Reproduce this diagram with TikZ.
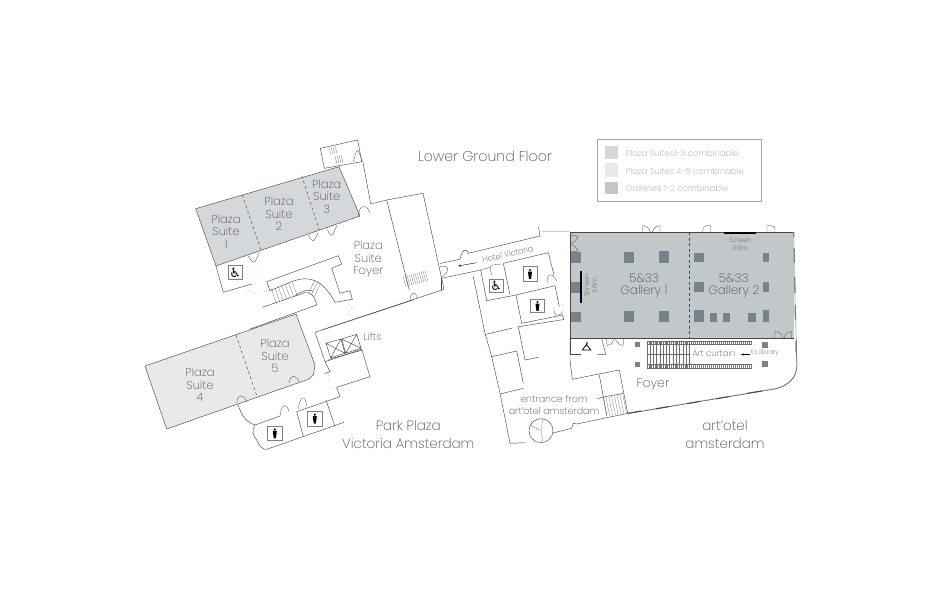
\documentclass[tikz,border=0pt]{standalone}
\usepackage{fontspec}
\setmainfont{Poppins}[UprightFont=* ExtraLight]
\newfontfamily\symfont{DejaVu Sans}
\usetikzlibrary{arrows.meta}
\definecolor{wallcol}{HTML}{484848}
\definecolor{suiteA}{HTML}{D5D8DA}
\definecolor{suiteB}{HTML}{E8E9EA}
\definecolor{gallerycol}{HTML}{C2C7CA}
\definecolor{pillarcol}{HTML}{75838E}
\definecolor{glasscol}{HTML}{C9CCCE}
\definecolor{textcol}{HTML}{505050}
\definecolor{legendcol}{HTML}{A0A0A0}
\newcommand{\personicon}[2]{
    \path[fill=black] (#1,#2-4) circle (1.2);
    \path[fill=black] (#1-2,#2-2.5) -- (#1+2,#2-2.5) -- (#1+1.6,#2+1.2) -- (#1+1,#2+4.8) -- (#1-1,#2+4.8) -- (#1-1.6,#2+1.2) -- cycle;
}
\tikzset{
    wall/.style={draw=wallcol, line width=0.45pt},
    door/.style={draw=wallcol, line width=0.3pt},
    divider/.style={draw=wallcol, line width=0.45pt, dash pattern=on 3pt off 2.5pt},
    thin line/.style={draw=wallcol!80, line width=0.25pt},
    pillar/.style={fill=pillarcol},
    iconbox/.style={draw=gray, line width=0.7pt, fill=white},
    roomtext/.style={text=textcol, align=center, inner sep=0pt, font=\fontsize{11.5}{12.5}\selectfont},
    bigtext/.style={text=textcol, align=center, inner sep=0pt, font=\fontsize{13.5}{18}\selectfont},
    smalltext/.style={text=textcol, align=center, inner sep=0pt, font=\fontsize{6.5}{8}\selectfont},
    legendtext/.style={text=legendcol, anchor=west, inner sep=0pt, font=\fontsize{8.5}{10}\selectfont},
}
\begin{document}
\begin{tikzpicture}[x=1pt, y=-1pt]
    \useasboundingbox (0,0) rectangle (945,600);

    % Plaza suites 1 to 3
    \path[wall, fill=suiteA] (195.7,208.7) -- (339,166.7) -- (360,216) -- (216,266) -- cycle;
    \path[divider] (242.3,195) -- (260.7,249.3);
    \path[divider] (301.7,175.7) -- (319.3,230);

    % Plaza suites 4 and 5
    \path[wall, fill=suiteB] (145,366) -- (296,314) -- (315,365) -- (313.3,375) -- (308.3,379.3) -- (166.7,429) -- cycle;
    \path[divider] (236,335) -- (257.3,397.3);

    % Galleries
    \path[fill=gallerycol] (570,232.3) rectangle (794,338.3);
    \path[wall] (570,338.3) -- (794,338.3);
    \path[wall] (570,232.3) -- (570,338.3);
    \path[wall] (570,232.3) -- (794,232.3);
    \path[divider] (689.3,232.3) -- (689.3,338.3);

    % Upper stair room and corridor
    \path[wall] (320.3,148.3) -- (357.7,140) -- (361.7,161.7) -- (324.3,168.3) -- cycle;
    \path[wall] (363,162.3) -- (370.7,204) -- (386.7,200) -- (423,193.3) -- (444,289.3) -- (321.7,330);
    \path[wall] (386.7,200) -- (409.3,290);
    \foreach \i in {0,1,2,3} {
        \path[thin line] (329+\i*2,147.5-\i*0.5) -- (331+\i*2,155-\i*0.5);
        \path[thin line] (335+\i*2,156-\i*0.5) -- (337+\i*2,164-\i*0.5);
    }
    \foreach \i in {0,...,11} {
        \path[thin line] (403+\i*2,276-\i*0.5) -- (406+\i*2,287-\i*0.5);
    }

    % Foyer of the suites
    \path[wall] (216,266) -- (223.3,292.3) -- (251.7,284);
    \path[wall] (266.7,281.7) -- (338.3,255.7) -- (341.7,264) -- (331.7,268.3) -- (340,293.3) -- (350,290.7) -- (352.3,299.3) -- (335,302.3);
    \path[wall] (266.7,281.7) -- (270,290.7) -- (291.7,281.7) .. controls (311,274) and (324,282) .. (335,302.3);
    \path[wall] (262.3,307.3) -- (305,292.7) .. controls (310,291.5) and (315,296) .. (316.7,305) -- (250,329);
    \path[wall] (295,295.5) .. controls (302,291) and (308,289) .. (313,291);
    \foreach \i in {0,...,6} {
        \path[thin line] (271.5+\i*3.4,288.5-\i*1.1) -- (276.5+\i*3.4,304-\i*1.6);
    }
    \foreach \i in {0,1,2} {
        \path[thin line] (308.3+\i*3,293.3+\i*1.6) -- (315+\i*2.9,280+\i*1.6);
    }

    % Lift block and toilets
    \path[wall] (413,300) -- (315,332.3) -- (325,361.7) -- (361.7,349.3) -- (370,376.7) -- (336.7,387.3) -- (340,396.7) -- (296.7,411.7);
    \path[wall] (325,361.7) -- (330,371.7) -- (324.5,373.5);
    \path[wall] (238.3,405) .. controls (241,415) and (246,422) .. (255,425) -- (280,416);
    \path[wall] (255,425) .. controls (252,430) and (252,434) .. (256.7,440) .. controls (259,446) and (263,450) .. (266.7,449.3) -- (344,422.3);
    \path[wall] (326,400) -- (335,426.7);
    \path[wall] (296.7,411.7) -- (303.3,436.7);
    \path[wall] (326,343.3) -- (341,339) -- (345,353.3) -- (330.7,357.7) -- cycle (326,343.3) -- (345,353.3) (341,339) -- (330.7,357.7);
    \path[wall] (341.7,339) -- (356.7,334.3) -- (361,348.3) -- (345.7,353.3) -- cycle (341.7,339) -- (361,348.3) (356.7,334.3) -- (345.7,353.3);
    \path[wall] (328.5,359.5) -- (362.5,350);
    \path[iconbox] (267.3,426.7) rectangle (282.3,440);
    \path[iconbox] (307.3,411.7) rectangle (322.3,426);
    \path[iconbox] (228.5,265.5) rectangle (242,279.5);
    \personicon{274.8}{433.5}
    \personicon{314.8}{418.7}

    % Doors of the suites
    \path[door] (353.3,161.7) .. controls (357,147) .. (362.7,161.7);
    \path[door] (358.3,216) .. controls (359,203) and (368,205) .. (370,213);
    \path[door] (308.3,235) .. controls (313,243) .. (318.3,232.7);
    \path[door] (326.7,228.3) .. controls (331.5,238) .. (336.7,226);
    \path[door] (248.3,256) .. controls (254,265) .. (259.3,252.3);
    \path[door, dotted] (251.7,266.7) .. controls (262,270) and (262,276) .. (253.3,279);
    \path[door, dotted] (251.7,284) .. controls (245,286) and (246,292) .. (255,292.3) -- (261.7,293.3) -- (267.7,290);
    \path[door, dotted] (352.3,299.3) .. controls (346,303) .. (353.3,308.3) .. controls (347,313) .. (351,316.7) -- (360,316.7);
    \path[door] (410,301) .. controls (410,292) and (416,290) .. (417,298);
    \path[door] (440,266.7) .. controls (450,264) and (450,272) .. (441.7,276.7);
    \path[door] (236.7,403.3) .. controls (238,392) and (244,395) .. (246.7,401.7);
    \path[door] (289,383.3) .. controls (290,373) and (297,375) .. (299.3,382.7);
    \path[door] (280,416) .. controls (281,403) and (287,403) .. (289,411.7);
    \path[door] (298.3,409) .. controls (300,394) and (306,395) .. (306.7,406.7);
    \path[door, dotted] (324.5,373.5) .. controls (334,376) and (326,382) .. (328.3,387.3) -- (336.7,387.3);

    % Hotel Victoria corridor and the toilets beside it
    \path[wall] (440,263.5) -- (460,259.3) .. controls (462,250) and (466,247) .. (468.3,253.3) -- (540,236) -- (538.5,226.7);
    \path[wall] (441.7,278.3) -- (480.7,270) -- (486.7,300.7) -- (516,295) -- (555,285.7);
    \path[wall] (441.7,278.3) -- (441.7,290);
    \path[wall] (503.3,263.3) -- (548.3,252.7) -- (554,275);
    \path[wall] (503.3,263.3) -- (510,295);
    \path[wall] (555,285.7) -- (559.3,306.7);
    \path[wall] (516,295) -- (521.7,323.3) -- (562.7,315) -- (564,320);
    \path[wall] (518.3,326.7) -- (564,319.5);
    \path[wall] (518.3,326.7) -- (525,360) -- (538.3,357.3);
    \path[door] (491.7,275) .. controls (489,265) .. (501.7,264);
    \path[door] (480.7,270) -- (491,267);
    \path[door] (547.3,283.3) .. controls (546,273) and (552,272) .. (556.7,280.7);
    \path[door] (554,307.3) .. controls (553,316) and (558,318) .. (562.7,311.7);
    \path[iconbox] (489,279) rectangle (503.5,292);
    \path[iconbox] (523,266.5) rectangle (537,281);
    \path[iconbox] (530.5,299.5) rectangle (544.5,312.5);
    \personicon{530}{274}
    \personicon{537.5}{306}

    % Entrance passage
    \path[wall] (473.3,276.7) -- (485,333.3) -- (491.7,356.7) -- (500,393.3) -- (510,443.3) -- (525,442.7);
    \path[wall] (485,334.5) -- (511.7,328.3);
    \path[wall] (491.7,356.7) -- (516.7,351) -- (523.3,383.3);
    \path[wall] (500,394) -- (523.3,388.3);
    \path[wall] (553,433) -- (571.7,428.3) -- (573.3,423.3) -- (576.7,424) -- (627.7,413.3);
    \path[wall] (541,430.7) circle (12);
    \path[thin line] (541,430.7) -- (543,419) (541,430.7) -- (530,425) (541,430.7) -- (543,442.5);

    % Gallery pillars
    \foreach \xa/\ya/\xb/\yb in {
        570.5/251.5/580.5/262.5, 623.5/251.5/634/262.5, 658.5/251/668.5/262.5, 694/252.5/704/261.5,
        762.5/252.5/768.5/261.5, 570.5/281.5/580.5/292.5, 694/281.5/704/291.5, 762.5/281.5/768.5/291.5,
        570.5/311.5/580.5/321.5, 623.5/311/634/321.5, 658.5/310.5/668.5/321.5, 694/310/704/321.5,
        709.5/313/716.5/321.5, 722.5/313/729.5/321.5, 748/313/755.5/321.5, 762.5/310/768.5/321.5,
        634.5/342/639.5/346.5, 634.5/361.5/639.5/366.5, 761.5/341.5/767.5/347.5, 761.5/360.5/767.5/366.5}
    {
        \path[pillar] (\xa,\ya) rectangle (\xb,\yb);
    }

    % Screens
    \path[fill=black] (580.4,271) rectangle (581.6,302.7);
    \path[fill=black] (724,232) rectangle (756,233.5);

    % Gallery doors
    \path[door] (642.7,232.3) -- (642.7,225.5) .. controls (648,227) .. (650.5,232.3);
    \path[door] (660,232.3) -- (660,225.5) .. controls (655,227) .. (652,232.3);
    \path[door] (702.7,232.3) .. controls (703,226) .. (710.7,225.5) -- (710.7,232.3);
    \path[door] (775,232.3) .. controls (775,226) .. (767,225.5) -- (767,232.3);
    \path[door] (775,338.3) -- (775,331.5) .. controls (781,333) .. (783,338);
    \path[door] (791.7,338.3) -- (791.7,331.5) .. controls (786,333) .. (784,338);
    \path[door] (571,235) -- (578,236.5) .. controls (576,241) .. (571,243);
    \path[door] (571,252) -- (578,251) .. controls (576,247) .. (571,244);

    % Cloakroom
    \path[wall] (570.7,338.3) -- (570.7,354.3) -- (580.7,354.3);
    \path[wall] (597.3,354.3) -- (605.7,354.3) -- (601.7,338.3);
    \path[door] (606.5,338.3) -- (607,345.5) .. controls (612,344) .. (614,338.5);
    \path[door] (624,338.3) -- (623,345.5) .. controls (618,344) .. (615,338.5);
    \path[draw=black, line width=0.8pt] (582.3,350) -- (590.8,350) -- (586.5,344.5) -- cycle (586.5,344.5) -- (586.5,343) -- (588,342.8);

    % Curtain and hall stairs
    \foreach \i in {0,...,52} {
        \path[draw=wallcol!70, line width=0.2pt] (646.7+\i*2,341) -- (646.7+\i*2,344.5);
        \path[draw=wallcol!70, line width=0.2pt] (646.7+\i*2,364.5) -- (646.7+\i*2,368);
    }
    \path[thin line] (646.7,341) -- (751.7,341) (646.7,344.5) -- (751.7,344.5) (646.7,364.5) -- (751.7,364.5) (646.7,368) -- (751.7,368);
    \foreach \i in {0,...,13} {
        \path[thin line] (646.7+\i*3.27,341) -- (646.7+\i*3.27,368);
    }
    \path[thin line] (646.7,354) -- (689.3,354);
    \path[draw=black, line width=0.4pt, -{Stealth[length=2.5pt, width=2pt]}] (750,354.5) -- (741,354.5);

    % Lower foyer walls and stairs
    \path[wall] (570,338.3) -- (570,360) -- (572.3,379.3) -- (619.3,370) -- (627.7,413.3);
    \path[wall] (599.3,375) -- (606.7,415);
    \path[wall] (597,399) -- (603,397) -- (623,393.5);
    \foreach \i in {0,...,7} {
        \path[thin line] (603+\i*2.8,397-\i*0.5) -- (607+\i*2.8,416.5-\i*0.5);
    }

    % Outer wall with glazing
    \path[draw=glasscol, line width=1.1pt] (627.7,413.3) -- (773,389) .. controls (790,386) and (796.7,376) .. (796.7,365) -- (793.5,232.3);
    \path[wall] (627.7,413.6) -- (773,389.3) .. controls (790,386.3) and (797,376) .. (797,365) -- (796.2,338.3);
    \foreach \xa/\ya/\xb/\yb in {627.7/413.3/641/411, 656/408.8/669/406.6, 687/403.6/700/401.4, 716/398.8/729/396.6, 747/393.4/762/390.9}
    {
        \path[draw=wallcol, line width=1pt] (\xa,\ya) -- (\xb,\yb);
    }
    \foreach \ya/\yb in {232/237, 248/263, 277/293, 305/320, 342/352}
    {
        \path[draw=gray, line width=1.3pt] (793.7+\ya*0.02-4.6,\ya) -- (793.7+\yb*0.02-4.6,\yb);
    }
    \path[draw=glasscol, line width=1pt] (541.7,231.7) -- (570,231.7);

    % Legend
    \path[draw=gray!70, line width=0.4pt] (597.3,139.3) rectangle (760.7,201);
    \path[fill=suiteA] (605,146) rectangle (618,159.3);
    \path[fill=suiteB] (605,163.3) rectangle (618,176.7);
    \path[fill=gallerycol] (605,181.7) rectangle (618,194.3);
    \node[legendtext] (legendA) at (625.7,153) {Plaza Suites1-3 combinable};
    \node[legendtext] (legendB) at (625.7,171) {Plaza Suites 4-5 combinable};
    \node[legendtext] (legendC) at (625.7,188.5) {Galleries 1-2 combinable};

    % Titles and room names
    \node[bigtext, font=\fontsize{14.2}{18}\selectfont] (title) at (485,156) {Lower Ground Floor};
    \node[roomtext] (suite1) at (226,231.7) {Plaza\\Suite\\1};
    \node[roomtext] (suite2) at (279,214) {Plaza\\Suite\\2};
    \node[roomtext] (suite3) at (326.7,196.7) {Plaza\\Suite\\3};
    \node[roomtext] (suite4) at (200,385) {Plaza\\Suite\\4};
    \node[roomtext] (suite5) at (275,356) {Plaza\\Suite\\5};
    \node[roomtext] (suitefoyer) at (368.3,259.3) {Plaza\\Suite\\Foyer};
    \node[roomtext, font=\fontsize{10}{12}\selectfont] (lifts) at (372.5,337) {Lifts};
    \node[bigtext] (parkplaza) at (408.3,434.5) {Park Plaza\\Victoria Amsterdam};
    \node[bigtext] (artotel) at (725,434.5) {art'otel\\amsterdam};
    \node[roomtext, font=\fontsize{9.5}{11.5}\selectfont] (entrance) at (554,405) {entrance from\\art'otel amsterdam};
    \node[roomtext, font=\fontsize{12}{12.3}\selectfont] (gallery1) at (644,285.5) {5\&33\\Gallery 1};
    \node[roomtext, font=\fontsize{12}{12.3}\selectfont] (gallery2) at (733.7,285.5) {5\&33\\Gallery 2};
    \node[roomtext, font=\fontsize{12.5}{14}\selectfont] (foyer) at (653,384.5) {Foyer};
    \node[smalltext] (screenB) at (740,244) {Screen\\3.6m};
    \node[smalltext, rotate=90] (screenA) at (590.5,285.7) {Screen\\3.6m};
    \node[roomtext, font=\fontsize{8.5}{10}\selectfont] (curtain) at (714,353.3) {Art curtain};
    \node[smalltext] (library) at (765,353.3) {to library};
    \coordinate (hotelend) at (476.7,262.7);
    \coordinate (hotelhead) at (458.3,266);
    \path[draw=black, line width=0.4pt, -{Stealth[length=2.5pt, width=2pt]}] (hotelend) -- (hotelhead);
    \node[smalltext, font=\fontsize{8}{10}\selectfont, rotate=13] (hotel) at (507.7,254.3) {Hotel Victoria};
    \node[font=\symfont\fontsize{13}{13}\selectfont, inner sep=0pt] (wheelA) at (235.3,272.5) {♿};
    \node[font=\symfont\fontsize{13}{13}\selectfont, inner sep=0pt] (wheelB) at (496.3,285.5) {♿};
\end{tikzpicture}
\end{document}
